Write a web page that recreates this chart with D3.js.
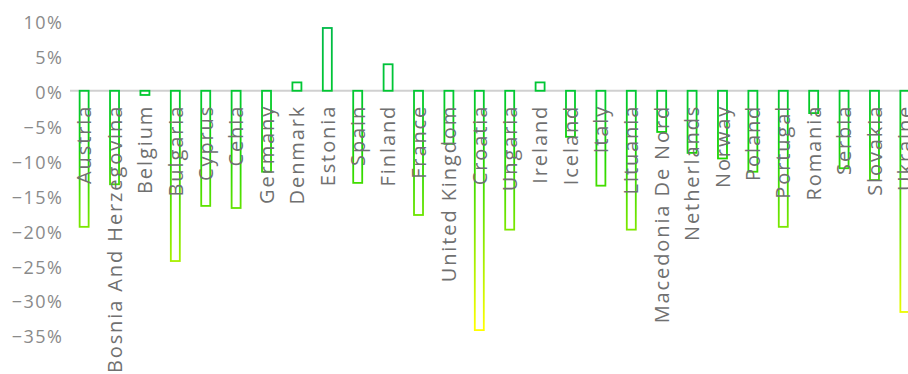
<!DOCTYPE html>
<html>
<head>
<meta charset="utf-8">
<script src="https://cdn.jsdelivr.net/npm/d3@7"></script>
<style>
  body { margin: 0; background: #fff; }
  svg { display: block; }
</style>
</head>
<body>
<svg id="chart" width="908" height="374"></svg>
<script>
let width = 908, height = 374;

let countries = ["Austria", "Bosnia And Herzegovina", "Belgium", "Bulgaria", "Cyprus", "Cehia", "Germany",
  "Denmark", "Estonia", "Spain", "Finland", "France", "United Kingdom", "Croatia", "Ungaria", "Ireland",
  "Iceland", "Italy", "Lituania", "Macedonia De Nord", "Netherlands", "Norway", "Poland", "Portugal",
  "Romania", "Serbia", "Slovakia", "Ukraine"];
let change = [-0.195, -0.134, -0.006, -0.244, -0.165, -0.168, -0.116,
  0.012, 0.090, -0.132, 0.038, -0.178, -0.076, -0.343, -0.199, 0.012,
  -0.066, -0.136, -0.199, -0.059, -0.089, -0.097, -0.116, -0.195,
  -0.032, -0.111, -0.128, -0.317];
let yTicks = [0.10, 0.05, 0, -0.05, -0.10, -0.15, -0.20, -0.25, -0.30, -0.35];

let svg = d3.select("#chart");

let x = d3.scaleBand().domain(countries).range([70, 919]).paddingInner(0.67).paddingOuter(0.3);
let y = d3.scaleLinear().domain([-0.35, 0.10]).range([335, 21]);
let fmt = d3.format(".0%");

// stroke gradient: green near zero, yellow at the deepest bars
let grad = svg.append("defs").append("linearGradient")
  .attr("id", "barGrad")
  .attr("gradientUnits", "userSpaceOnUse")
  .attr("x1", 0).attr("x2", 0)
  .attr("y1", y(0.10)).attr("y2", y(-0.35));
[[0.10, "#00b84a"], [0, "#00c832"], [-0.08, "#11d400"], [-0.34, "#ffff00"]].forEach(function(s){
  grad.append("stop")
    .attr("offset", (y(s[0]) - y(0.10)) / (y(-0.35) - y(0.10)))
    .attr("stop-color", s[1]);
});

// y tick labels, no axis line
svg.append("g").selectAll("text")
  .data(yTicks)
  .enter()
  .append("text")
  .attr("x", 63.5)
  .attr("y", d => y(d) + 2)
  .attr("dy", "0.35em")
  .attr("text-anchor", "end")
  .style("font-family", "'Open Sans', sans-serif")
  .style("font-size", "18px")
  .style("letter-spacing", "1.5px")
  .style("fill", "#8a8a8a")
  .text(d => fmt(d));

// zero line
svg.append("line")
  .attr("x1", 70).attr("x2", width)
  .attr("y1", y(0)).attr("y2", y(0))
  .style("stroke", "#d0d0d0")
  .style("stroke-width", 2);

let bw = 9;
svg.append("g").selectAll("rect")
  .data(countries)
  .enter()
  .append("rect")
  .attr("x", d => x(d) + x.bandwidth() / 2 - bw / 2)
  .attr("y", (d, i) => y(Math.max(0, change[i])))
  .attr("width", bw)
  .attr("height", (d, i) => Math.abs(y(change[i]) - y(0)))
  .style("fill", "none")
  .style("stroke", "url(#barGrad)")
  .style("stroke-width", 1.8);

svg.append("g").selectAll("text")
  .data(countries)
  .enter()
  .append("text")
  .attr("transform", d => "translate(" + (x(d) + x.bandwidth() / 2) + "," + (y(0) + 14) + ") rotate(-90)")
  .attr("dy", "0.36em")
  .attr("text-anchor", "end")
  .style("font-family", "'Open Sans', sans-serif")
  .style("font-size", "20px")
  .style("letter-spacing", "1.9px")
  .style("fill", "#707070")
  .text(d => d);
</script>
</body>
</html>
